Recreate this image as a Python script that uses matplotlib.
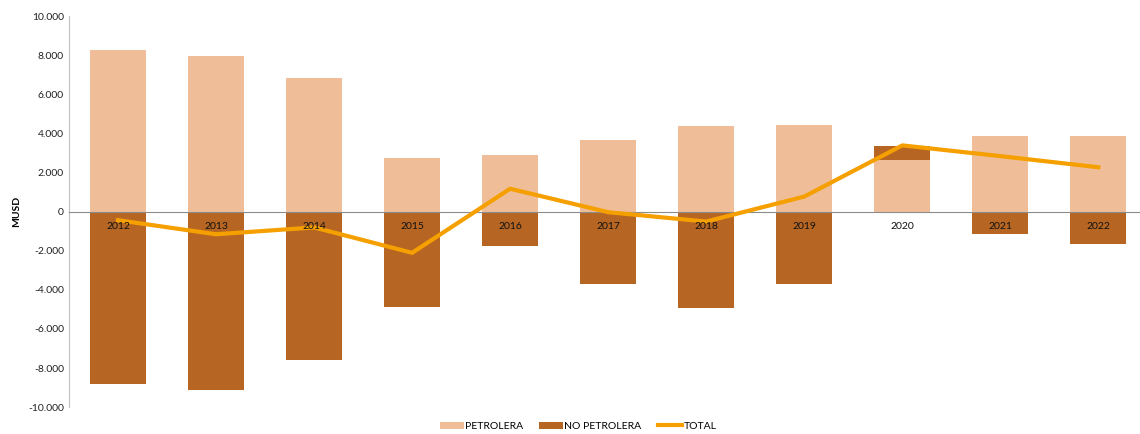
import numpy as np
import matplotlib.pyplot as plt
from matplotlib.ticker import FuncFormatter

plt.rcParams['font.family'] = ['Lato', 'DejaVu Sans']

# datos (MUSD)
anios = ['2012', '2013', '2014', '2015', '2016', '2017', '2018', '2019', '2020', '2021', '2022']
petrolera = [8300, 8000, 6850, 2750, 2900, 3670, 4400, 4450, 2640, 3880, 3880]
no_petrolera = [-8800, -9140, -7600, -4890, -1760, -3710, -4940, -3710, 730, -1140, -1660]
total = [-430, -1150, -800, -2100, 1180, -20, -500, 780, 3400, 2850, 2280]

c_pet = '#EFBE98'
c_nopet = '#B66622'
c_total = '#F5A000'

fig = plt.figure(figsize=(11.4, 4.34), dpi=100)
ax = fig.add_axes([0.0605, 0.062, 0.946, 0.9])

x = np.arange(len(anios))
ancho = 0.57
pet = np.array(petrolera)
nopet = np.array(no_petrolera)
# si no petrolera es positivo se apila sobre petrolera
base_nopet = np.where(nopet > 0, pet, 0)

ax.bar(x, pet, width=ancho, color=c_pet, label='PETROLERA', zorder=2)
ax.bar(x, nopet, bottom=base_nopet, width=ancho, color=c_nopet, label='NO PETROLERA', zorder=2)
ax.plot(x, total, color=c_total, linewidth=3, label='TOTAL', zorder=4)

ax.set_ylim(-10000, 10000)
ax.set_yticks(np.arange(-10000, 10001, 2000))
ax.yaxis.set_major_formatter(FuncFormatter(lambda v, p: f'{int(v):,}'.replace(',', '.')))
ax.set_xlim(-0.5, len(anios) - 0.5)
ax.set_xticks([])

# etiquetas de anio justo bajo la linea de cero
for xi, a in zip(x, anios):
    ax.annotate(a, (xi, 0), xytext=(0, -7), textcoords='offset points',
                ha='center', va='top', fontsize=7.5, color='#111111', zorder=5)

ax.spines['top'].set_visible(False)
ax.spines['right'].set_visible(False)
ax.spines['bottom'].set_position(('data', 0))
ax.spines['bottom'].set_color('#8C8C8C')
ax.spines['left'].set_color('#BFBFBF')
ax.spines['bottom'].set_zorder(3)
ax.tick_params(axis='both', length=0, labelsize=7.5, colors='#222222')

ax.set_ylabel('MUSD', fontsize=7.5, fontweight='bold', labelpad=5)

h, l = ax.get_legend_handles_labels()
orden = [l.index('PETROLERA'), l.index('NO PETROLERA'), l.index('TOTAL')]
ax.legend([h[i] for i in orden], [l[i] for i in orden],
          loc='lower center', bbox_to_anchor=(0.472, -0.085), ncol=3, frameon=False,
          fontsize=7.5, handlelength=2.3, handleheight=0.6, columnspacing=1.6, handletextpad=0.1)

fig.savefig('out.png', dpi=100)
